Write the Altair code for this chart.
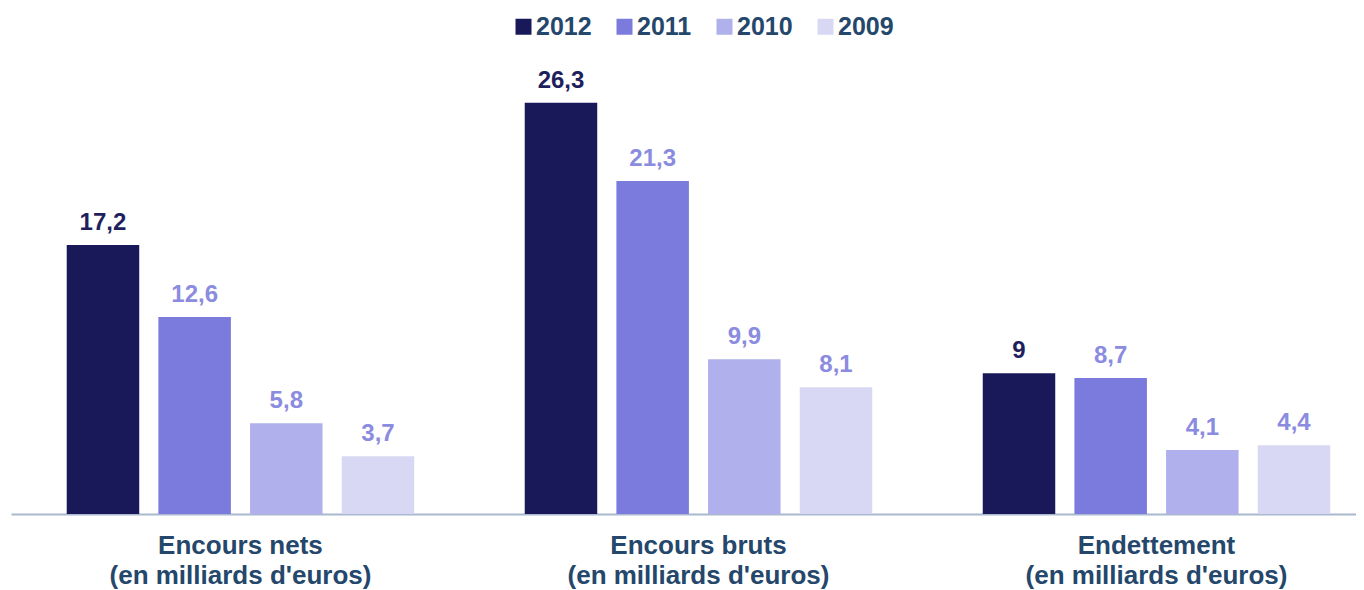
import altair as alt
import pandas as pd

categories = [
    "Encours nets|(en milliards d'euros)",
    "Encours bruts|(en milliards d'euros)",
    "Endettement|(en milliards d'euros)",
]
years = ["2012", "2011", "2010", "2009"]
v2012 = [17.2, 26.3, 9.0]
v2011 = [12.6, 21.3, 8.7]
v2010 = [5.8, 9.9, 4.1]
v2009 = [3.7, 8.1, 4.4]

bar_colors = ["#19195a", "#7b7bdd", "#b0b0ec", "#d8d8f4"]
label_dark = "#1f1f5e"
label_light = "#8b8be0"
text_color = "#24476b"
FONT = "Liberation Sans"

series = {"2012": v2012, "2011": v2011, "2010": v2010, "2009": v2009}
rows = []
for y in years:
    for c, v in zip(categories, series[y]):
        rows.append({"category": c, "year": y, "value": v,
                     "label": f"{v:g}".replace(".", ",")})
df = pd.DataFrame(rows)

W, H = 1345, 469

x = alt.X(
    "category:N", sort=categories,
    scale=alt.Scale(domain=categories, paddingInner=0.131, paddingOuter=0.0338, align=0.984),
    axis=alt.Axis(title=None, domain=True, domainColor="#aab8d0", domainWidth=2,
                  ticks=False, labelAngle=0,
                  labelExpr="split(datum.label, '|')", labelFontSize=26,
                  labelFont=FONT, labelFontWeight="bold", labelColor=text_color,
                  labelPadding=18, labelLineHeight=30, labelLimit=500,
                  labelOverlap=False),
)
xo = alt.XOffset("year:N", sort=years,
                 scale=alt.Scale(domain=years, paddingInner=0.209, paddingOuter=0.2755))
yq = alt.Y("value:Q", scale=alt.Scale(domain=[0, 30], nice=False), axis=None)

base = alt.Chart(df)

bars = base.mark_bar().encode(
    x=x, xOffset=xo, y=yq,
    color=alt.Color("year:N", sort=years,
                    scale=alt.Scale(domain=years, range=bar_colors),
                    legend=alt.Legend(orient="none", legendX=500, legendY=-31,
                                      direction="horizontal", title=None,
                                      labelFontSize=25, labelFont=FONT,
                                      labelFontWeight="bold", labelColor=text_color,
                                      symbolType="square", symbolSize=256,
                                      symbolStrokeWidth=0, columnPadding=20,
                                      labelOffset=0, padding=0)),
)

texts = base.mark_text(dy=-15, baseline="alphabetic", fontSize=24,
                       fontWeight="bold", font=FONT).encode(
    x=x, xOffset=xo, y=yq, text="label:N",
    color=alt.condition(alt.datum.year == "2012", alt.value(label_dark), alt.value(label_light)),
)

chart = alt.layer(bars, texts).properties(
    width=W, height=H,
    autosize=alt.AutoSizeParams(type="none"),
    padding={"left": 3, "top": 37, "right": 0, "bottom": 76},
).configure_view(stroke=None)

chart.save("out.html", embed_options={"renderer": "svg", "actions": False})
